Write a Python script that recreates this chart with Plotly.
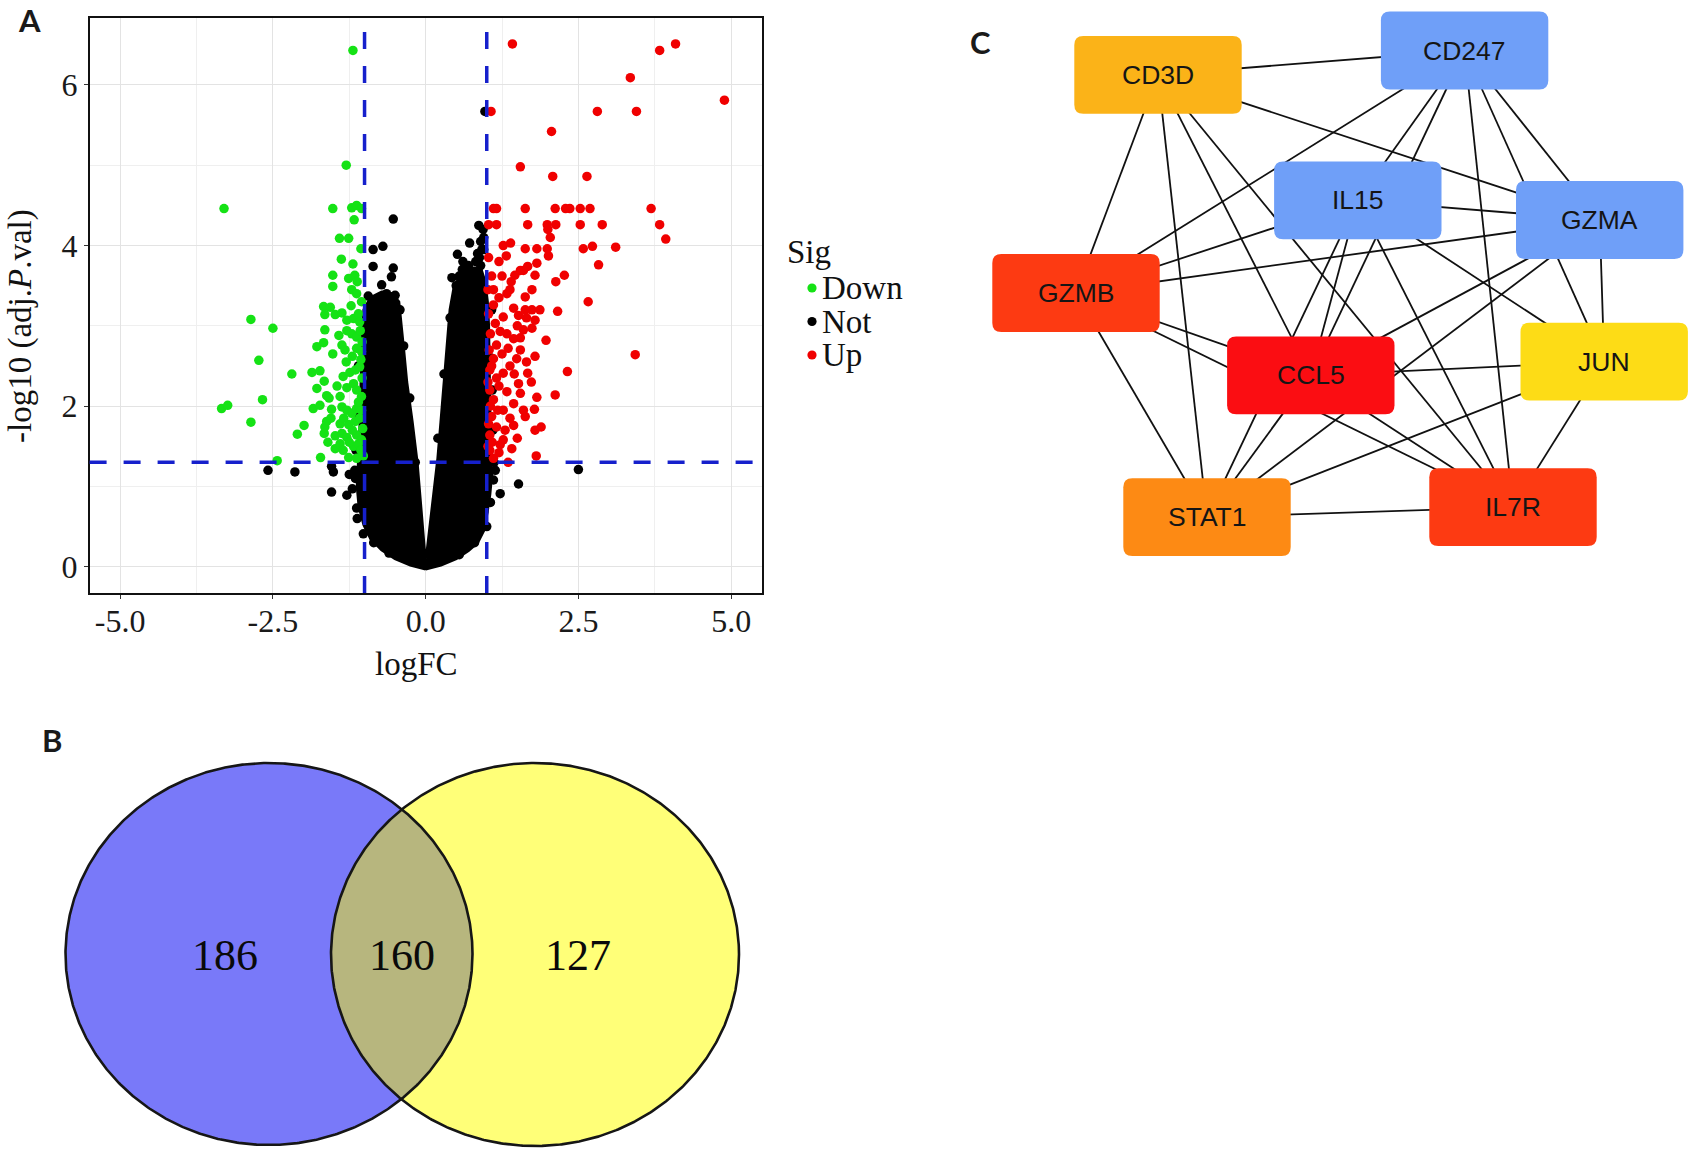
import numpy as np
import plotly.graph_objects as go

W, H = 1705, 1152

# ---------------- Panel A : volcano data (logFC, -log10 adj.P) ----------------
down_pts = [
    (-1.19, 6.43), (-1.30, 5.00),
    (-3.30, 4.46), (-1.52, 4.46), (-1.21, 4.47), (-1.13, 4.50), (-1.05, 4.46), (-1.17, 4.32),
    (-1.41, 4.09), (-1.26, 4.09), (-1.06, 3.96), (-1.38, 3.83), (-1.19, 3.77), (-1.52, 3.63),
    (-1.26, 3.59), (-1.16, 3.63), (-1.52, 3.49), (-1.21, 3.45), (-1.13, 3.40), (-1.67, 3.24),
    (-1.56, 3.23), (-1.65, 3.14), (-1.48, 3.14), (-1.37, 3.16), (-1.29, 3.07), (-1.18, 3.09),
    (-1.10, 3.15), (-2.86, 3.08), (-2.50, 2.97), (-1.65, 2.95), (-1.29, 2.94), (-1.21, 2.90),
    (-1.13, 2.86), (-1.07, 2.94), (-1.78, 2.74), (-1.67, 2.79), (-1.37, 2.76), (-1.32, 2.70),
    (-1.13, 2.72), (-1.05, 2.68), (-2.73, 2.57), (-2.19, 2.40), (-1.86, 2.42), (-1.73, 2.44),
    (-1.66, 2.31), (-1.35, 2.37), (-1.24, 2.42), (-1.15, 2.45), (-1.08, 2.49), (-1.78, 2.22),
    (-1.29, 2.23), (-1.18, 2.28), (-1.62, 2.13), (-2.67, 2.08), (-1.40, 2.12), (-1.13, 2.20),
    (-1.05, 2.12), (-3.34, 1.97), (-3.24, 2.01), (-1.84, 1.97), (-1.73, 2.01), (-1.54, 1.96),
    (-1.37, 1.99), (-1.29, 1.95), (-1.21, 1.91), (-1.13, 1.97), (-1.05, 1.95), (-2.86, 1.80),
    (-1.62, 1.81), (-1.65, 1.74), (-1.99, 1.76), (-2.10, 1.65), (-1.40, 1.78), (-1.26, 1.77),
    (-1.15, 1.81), (-1.48, 1.63), (-1.37, 1.66), (-1.29, 1.61), (-1.13, 1.64), (-1.05, 1.58),
    (-1.66, 1.66), (-1.48, 1.47), (-1.40, 1.53), (-1.18, 1.50), (-1.10, 1.53), (-1.72, 1.36),
    (-2.43, 1.32), (-1.26, 1.36), (-1.13, 1.35),
    (-1.05, 3.30), (-1.08, 3.05), (-1.04, 2.80), (-1.06, 2.58), (-1.04, 2.35), (-1.08, 1.85),
    (-1.03, 1.72), (-1.06, 1.45), (-1.02, 1.38), (-1.10, 2.05), (-1.12, 3.55), (-1.22, 3.25),
    (-1.30, 2.55), (-1.42, 2.88), (-1.52, 2.65), (-1.20, 2.62), (-1.58, 2.10), (-1.45, 2.25),
    (-1.34, 1.85), (-1.55, 1.85), (-1.20, 1.70), (-1.35, 1.45), (-1.25, 1.55), (-1.60, 1.55),
]

up_pts = [
    (1.42, 6.51), (3.83, 6.43), (4.09, 6.51), (3.35, 6.09), (4.89, 5.81), (1.07, 5.67),
    (2.81, 5.67), (3.45, 5.67), (2.06, 5.42), (1.55, 4.98), (2.08, 4.86), (2.64, 4.86),
    (1.11, 4.46), (1.16, 4.46), (1.63, 4.46), (2.12, 4.46), (2.29, 4.46), (2.36, 4.46),
    (2.53, 4.46), (2.69, 4.46), (3.69, 4.46),
    (1.03, 4.26), (1.16, 4.26), (1.67, 4.26), (1.99, 4.26), (2.13, 4.26), (2.53, 4.26),
    (2.89, 4.26), (3.83, 4.26), (2.00, 4.20), (2.04, 4.10), (3.93, 4.08),
    (1.27, 4.00), (1.39, 4.03), (1.63, 3.96), (1.82, 3.96), (1.99, 3.96), (2.58, 3.96),
    (2.73, 3.99), (3.11, 3.98), (1.32, 3.87), (1.03, 3.85), (2.01, 3.87), (1.82, 3.78),
    (1.67, 3.74), (2.83, 3.76), (1.55, 3.69), (1.08, 3.62), (1.25, 3.62), (1.46, 3.63),
    (1.60, 3.69), (1.79, 3.63), (2.27, 3.63), (2.13, 3.55), (1.02, 3.45), (1.11, 3.45),
    (1.33, 3.40), (1.38, 3.45), (1.63, 3.36), (1.74, 3.45), (2.66, 3.30), (1.11, 3.26),
    (1.44, 3.22), (1.63, 3.20), (1.74, 3.20), (1.87, 3.20), (2.16, 3.18), (1.27, 3.11),
    (1.52, 3.13), (1.79, 3.07), (1.14, 3.03), (1.22, 2.93), (1.60, 2.95), (1.74, 2.97),
    (1.44, 2.84), (1.97, 2.82), (1.16, 2.76), (1.35, 2.72), (1.55, 2.70), (3.43, 2.64),
    (1.11, 2.59), (1.49, 2.59), (1.79, 2.62), (1.65, 2.55), (1.05, 2.45), (1.27, 2.41),
    (1.67, 2.41), (2.32, 2.43), (1.16, 2.35), (1.52, 2.28), (1.73, 2.30), (1.05, 2.20),
    (1.33, 2.18), (1.55, 2.16), (1.82, 2.11), (2.12, 2.14), (1.11, 2.08), (1.44, 2.03),
    (1.27, 1.95), (1.60, 1.95), (1.78, 1.96), (1.08, 1.87), (1.38, 1.85), (1.63, 1.87),
    (1.16, 1.74), (1.44, 1.76), (1.79, 1.70), (1.89, 1.74), (1.05, 1.64), (1.27, 1.58),
    (1.22, 1.52), (1.05, 1.45), (1.41, 1.47), (1.11, 1.35), (1.81, 1.38),
    (1.03, 3.15), (1.06, 2.90), (1.04, 2.70), (1.08, 2.50), (1.02, 2.30), (1.06, 2.00),
    (1.03, 1.78), (1.09, 1.55), (1.02, 1.50), (1.20, 1.42), (1.30, 1.70), (1.20, 2.25),
    (1.38, 2.50), (1.25, 2.65), (1.45, 2.40), (1.33, 2.90), (1.50, 3.00), (1.20, 3.35),
    (1.40, 3.55), (1.20, 3.80), (1.50, 1.60), (1.35, 1.30), (1.18, 1.95), (1.55, 2.85),
    (1.65, 3.10),
]

not_pts = [
    (-2.58, 1.20), (-2.14, 1.18), (-1.54, 1.25), (-1.51, 1.18), (-1.54, 0.93), (-1.29, 0.89),
    (-1.13, 0.73), (-1.20, 0.97), (-1.15, 1.10), (-1.25, 1.15), (-1.02, 0.41), (2.50, 1.21),
    (1.52, 1.03), (1.22, 0.91), (1.11, 1.08), (1.14, 1.20), (0.95, 0.68), (1.00, 0.50),
    (0.97, 5.67), (0.87, 4.25), (0.94, 4.20), (0.90, 4.05), (0.72, 4.03), (0.52, 3.89),
    (0.61, 3.80), (0.85, 3.90), (0.90, 3.75), (0.43, 3.60), (0.55, 3.62), (0.80, 3.65),
    (0.95, 3.95), (0.50, 3.50), (0.66, 3.55), (0.88, 3.85), (0.92, 3.95), (0.82, 3.80),
    (0.70, 3.75), (0.95, 4.10), (0.60, 3.70),
    (-0.53, 4.33), (-0.86, 3.95), (-0.70, 3.99), (-0.86, 3.74), (-0.53, 3.72), (-0.72, 3.51),
    (-0.56, 3.61), (-0.64, 3.40), (-0.94, 3.37), (-0.50, 3.38),
    (-1.08, 2.90), (-1.10, 2.50), (-1.09, 1.90), (-1.14, 1.45), (-1.16, 1.20), (-1.12, 0.60),
    (-0.85, 0.30), (-0.60, 0.17), (1.08, 3.20), (1.07, 2.60), (1.09, 2.20), (1.10, 1.70),
    (1.12, 1.30), (1.06, 0.80), (0.80, 0.30), (0.55, 0.15),
    (-0.36, 2.75), (-0.26, 2.10), (0.30, 2.40), (0.40, 3.10), (-0.42, 3.20), (0.20, 1.60),
    (-0.17, 1.30),
]

# outline of the dense cloud of non-significant genes
not_core_outline = [
    (0.00, -0.03), (0.25, 0.02), (0.50, 0.10), (0.70, 0.20), (0.85, 0.30), (0.95, 0.45),
    (1.00, 0.65), (1.05, 0.90), (1.08, 1.15), (1.06, 1.45), (1.05, 2.00), (1.04, 2.50),
    (1.03, 3.00), (1.01, 3.30), (0.97, 3.55), (0.90, 3.72), (0.75, 3.72), (0.60, 3.65),
    (0.47, 3.50), (0.40, 3.20), (0.36, 2.80), (0.31, 2.30), (0.25, 1.80), (0.20, 1.35),
    (0.13, 0.90), (0.07, 0.45), (0.03, 0.20), (0.01, 0.10), (-0.02, 0.20), (-0.04, 0.40),
    (-0.08, 0.80), (-0.14, 1.30), (-0.22, 1.80), (-0.31, 2.30), (-0.36, 2.70), (-0.40, 3.05),
    (-0.44, 3.30), (-0.55, 3.40), (-0.72, 3.42), (-0.90, 3.35), (-1.01, 3.20), (-1.04, 2.80),
    (-1.05, 2.40), (-1.06, 2.00), (-1.08, 1.60), (-1.10, 1.30), (-1.12, 1.00), (-1.09, 0.75),
    (-1.01, 0.52), (-0.90, 0.35), (-0.72, 0.21), (-0.50, 0.10), (-0.25, 0.02), (0.00, -0.03),
]

fc_cutoff = 1.0
p_cutoff = -np.log10(0.05)
x_ticks = [-5.0, -2.5, 0.0, 2.5, 5.0]
x_ticktext = ["-5.0", "-2.5", "0.0", "2.5", "5.0"]
y_ticks = [0, 2, 4, 6]
sig_labels = ["Down", "Not", "Up"]

# ---------------- Panel B : Venn counts ----------------
venn_counts = [186, 160, 127]

# ---------------- Panel C : network ----------------
node_names = ["CD3D", "CD247", "IL15", "GZMA", "GZMB", "CCL5", "JUN", "STAT1", "IL7R"]
node_x = [1158.0, 1464.6, 1357.8, 1599.7, 1076.0, 1310.8, 1604.2, 1207.0, 1513.0]
node_y = [74.8, 50.5, 200.3, 220.0, 293.0, 375.4, 361.7, 517.2, 507.2]
node_colors = ["#fbb318", "#6f9ff8", "#6f9ff8", "#6f9ff8", "#fd3a12",
               "#fb0d12", "#fddc16", "#fd8a14", "#fd3a12"]
edges = [
    ("CD3D", "CD247"), ("CD3D", "GZMA"), ("CD3D", "GZMB"), ("CD3D", "STAT1"),
    ("CD3D", "CCL5"), ("CD3D", "IL7R"),
    ("CD247", "GZMB"), ("CD247", "IL15"), ("CD247", "CCL5"), ("CD247", "IL7R"),
    ("CD247", "JUN"), ("CD247", "GZMA"),
    ("IL15", "GZMB"), ("IL15", "GZMA"), ("IL15", "STAT1"), ("IL15", "CCL5"),
    ("IL15", "IL7R"), ("IL15", "JUN"),
    ("GZMA", "GZMB"), ("GZMA", "CCL5"), ("GZMA", "STAT1"), ("GZMA", "JUN"),
    ("GZMB", "CCL5"), ("GZMB", "IL7R"), ("GZMB", "STAT1"),
    ("CCL5", "JUN"), ("CCL5", "STAT1"), ("CCL5", "IL7R"),
    ("STAT1", "IL7R"), ("STAT1", "JUN"),
    ("JUN", "IL7R"),
]

# ======================================================================
fig = go.Figure()

SERIF = "Liberation Serif"
GREEN, BLACK, RED = "#15e215", "#000000", "#f00000"
SIG_COLORS = [GREEN, BLACK, RED]
MS = 9.5

# dense body of non-significant genes
fig.add_trace(go.Scatter(
    x=[p[0] for p in not_core_outline], y=[p[1] for p in not_core_outline],
    mode="lines", fill="toself", fillcolor=BLACK, line=dict(color=BLACK, width=3),
    showlegend=False, hoverinfo="skip", xaxis="x", yaxis="y"))
for pts, col, lab in [(not_pts, BLACK, sig_labels[1]), (down_pts, GREEN, sig_labels[0]),
                      (up_pts, RED, sig_labels[2])]:
    fig.add_trace(go.Scatter(
        x=[p[0] for p in pts], y=[p[1] for p in pts], mode="markers", name=lab,
        marker=dict(color=col, size=MS, line=dict(width=0)), showlegend=False,
        xaxis="x", yaxis="y"))

dash_style = dict(color="#1620cc", width=3.5, dash="17px,17px")
for xv in (-fc_cutoff, fc_cutoff):
    fig.add_vline(x=xv, line=dash_style)
fig.add_hline(y=p_cutoff, line=dash_style)

# legend (drawn manually to match ggplot key spacing)
fig.add_annotation(x=785 / W, y=1 - 252 / H, xref="paper", yref="paper", text="Sig",
                   xanchor="left", yanchor="middle", showarrow=False,
                   font=dict(family=SERIF, size=33, color="#111111"))
for i, (lab, col) in enumerate(zip(sig_labels, SIG_COLORS)):
    yc = 288 + i * 33.5
    r = 4.6
    fig.add_shape(type="circle", xref="paper", yref="paper",
                  x0=(812 - r) / W, x1=(812 + r) / W, y0=1 - (yc + r) / H, y1=1 - (yc - r) / H,
                  fillcolor=col, line=dict(width=0))
    fig.add_annotation(x=820 / W, y=1 - yc / H, xref="paper", yref="paper", text=lab,
                       xanchor="left", yanchor="middle", showarrow=False,
                       font=dict(family=SERIF, size=33, color="#111111"))

# ---------------- Venn ----------------
t = np.linspace(0, 2 * np.pi, 721)
A = dict(cx=269.0, cy=954.0, rx=203.5, ry=191.0)
B = dict(cx=535.0, cy=954.5, rx=204.0, ry=191.5)


def ell(e, tt):
    return e["cx"] + e["rx"] * np.cos(tt), e["cy"] + e["ry"] * np.sin(tt)


def inside(e, x, y):
    return ((x - e["cx"]) / e["rx"]) ** 2 + ((y - e["cy"]) / e["ry"]) ** 2 <= 1.0


ax_, ay_ = ell(A, t)
bx_, by_ = ell(B, t)
ta = np.linspace(-np.pi, np.pi, 1441)
lx1, ly1 = ell(A, ta)
m1 = inside(B, lx1, ly1)
tb = np.linspace(0, 2 * np.pi, 1441)
lx2, ly2 = ell(B, tb)
m2 = inside(A, lx2, ly2)
lens_x = np.concatenate([lx1[m1], lx2[m2]])
lens_y = np.concatenate([ly1[m1], ly2[m2]])

for xs, ys, col in [(ax_, ay_, "#7979f9"), (bx_, by_, "#ffff78"), (lens_x, lens_y, "#b7b67e")]:
    fig.add_trace(go.Scatter(x=xs, y=ys, mode="lines", fill="toself", fillcolor=col,
                             line=dict(width=0), showlegend=False, hoverinfo="skip",
                             xaxis="x2", yaxis="y2"))
for xs, ys in [(ax_, ay_), (bx_, by_)]:
    fig.add_trace(go.Scatter(x=xs, y=ys, mode="lines", line=dict(color="#161616", width=2.6),
                             showlegend=False, hoverinfo="skip", xaxis="x2", yaxis="y2"))

venn_label_x = [225.0, 402.0, 578.0]
for cnt, lx in zip(venn_counts, venn_label_x):
    fig.add_annotation(x=lx, y=955, xref="x2", yref="y2", text=str(cnt), showarrow=False,
                       xanchor="center", yanchor="middle",
                       font=dict(family=SERIF, size=44, color="#0a0a0a"))

# ---------------- Network ----------------
idx = {n: i for i, n in enumerate(node_names)}
ex, ey = [], []
for a, b in edges:
    ex += [node_x[idx[a]], node_x[idx[b]], None]
    ey += [node_y[idx[a]], node_y[idx[b]], None]
fig.add_trace(go.Scatter(x=ex, y=ey, mode="lines", line=dict(color="#111111", width=1.8),
                         showlegend=False, hoverinfo="skip", xaxis="x3", yaxis="y3"))

BW, BH, BR = 167.4, 77.8, 9.0


def rrect(cx, cy, w, h, r):
    x0, x1 = cx - w / 2, cx + w / 2
    y0, y1 = cy - h / 2, cy + h / 2
    return (f"M {x0 + r},{y0} L {x1 - r},{y0} Q {x1},{y0} {x1},{y0 + r} "
            f"L {x1},{y1 - r} Q {x1},{y1} {x1 - r},{y1} L {x0 + r},{y1} "
            f"Q {x0},{y1} {x0},{y1 - r} L {x0},{y0 + r} Q {x0},{y0} {x0 + r},{y0} Z")


for n, cx, cy, col in zip(node_names, node_x, node_y, node_colors):
    fig.add_shape(type="path", path=rrect(cx, cy, BW, BH, BR), xref="x3", yref="y3",
                  fillcolor=col, line=dict(width=0), layer="above")
    fig.add_annotation(x=cx, y=cy, xref="x3", yref="y3", text=n, showarrow=False,
                       xanchor="center", yanchor="middle",
                       font=dict(family="Liberation Sans", size=26.5, color="#151515"))

# ---------------- Panel letters & axis titles ----------------
for letter, px, py in [("A", 29, 20), ("B", 52, 740), ("C", 980, 42)]:
    fig.add_annotation(x=px / W, y=1 - py / H, xref="paper", yref="paper",
                       text=f"<b>{letter}</b>", showarrow=False,
                       xanchor="center", yanchor="middle",
                       font=dict(family="Lato", size=31, color="#1a1a1a"))

fig.add_annotation(x=416 / W, y=1 - 664 / H, xref="paper", yref="paper", text="logFC",
                   xanchor="center", yanchor="middle", showarrow=False,
                   font=dict(family=SERIF, size=33, color="#111111"))
fig.add_annotation(x=20 / W, y=1 - 326 / H, xref="paper", yref="paper",
                   text="-log10 (adj.<i>P</i>.val)", textangle=-90, showarrow=False,
                   xanchor="center", yanchor="middle",
                   font=dict(family=SERIF, size=33, color="#111111"))

# ---------------- Layout ----------------
hidden = dict(visible=False, fixedrange=True)
tickfont = dict(family=SERIF, size=32, color="#1a1a1a")
fig.update_layout(
    width=W, height=H, margin=dict(l=0, r=0, t=0, b=0),
    paper_bgcolor="white", plot_bgcolor="white", showlegend=False,
    xaxis=dict(domain=[89.6 / W, 761.7 / W], range=[-5.5, 5.5], tickvals=x_ticks,
               ticktext=x_ticktext, showgrid=True, gridcolor="#e3e3e3", gridwidth=1.2,
               minor=dict(tickvals=[-3.75, -1.25, 1.25, 3.75], showgrid=True,
                          gridcolor="#efefef", gridwidth=0.8),
               zeroline=False, showline=True, mirror=True, linecolor="#111111", linewidth=1.6,
               ticks="outside", ticklen=4, tickwidth=1.2, tickcolor="#333333",
               ticklabelstandoff=-5, tickfont=tickfont, anchor="y"),
    yaxis=dict(domain=[1 - 592.9 / H, 1 - 17.8 / H], range=[-0.326, 6.836], tickvals=y_ticks,
               showgrid=True, gridcolor="#e3e3e3", gridwidth=1.2,
               minor=dict(tickvals=[1, 3, 5], showgrid=True, gridcolor="#efefef",
                          gridwidth=0.8),
               zeroline=False, showline=True, mirror=True, linecolor="#111111", linewidth=1.6,
               ticks="outside", ticklen=4, tickwidth=1.2, tickcolor="#333333",
               tickfont=tickfont, anchor="x"),
    xaxis2=dict(domain=[0, 800 / W], range=[0, 800], anchor="y2", **hidden),
    yaxis2=dict(domain=[0, 452 / H], range=[1152, 700], anchor="x2", **hidden),
    xaxis3=dict(domain=[960 / W, 1.0], range=[960, 1705], anchor="y3", **hidden),
    yaxis3=dict(domain=[1 - 600 / H, 1.0], range=[600, 0], anchor="x3", **hidden),
)

fig.write_html("out.html", config={"displayModeBar": False},
               post_script="document.body.style.margin='0px';")
